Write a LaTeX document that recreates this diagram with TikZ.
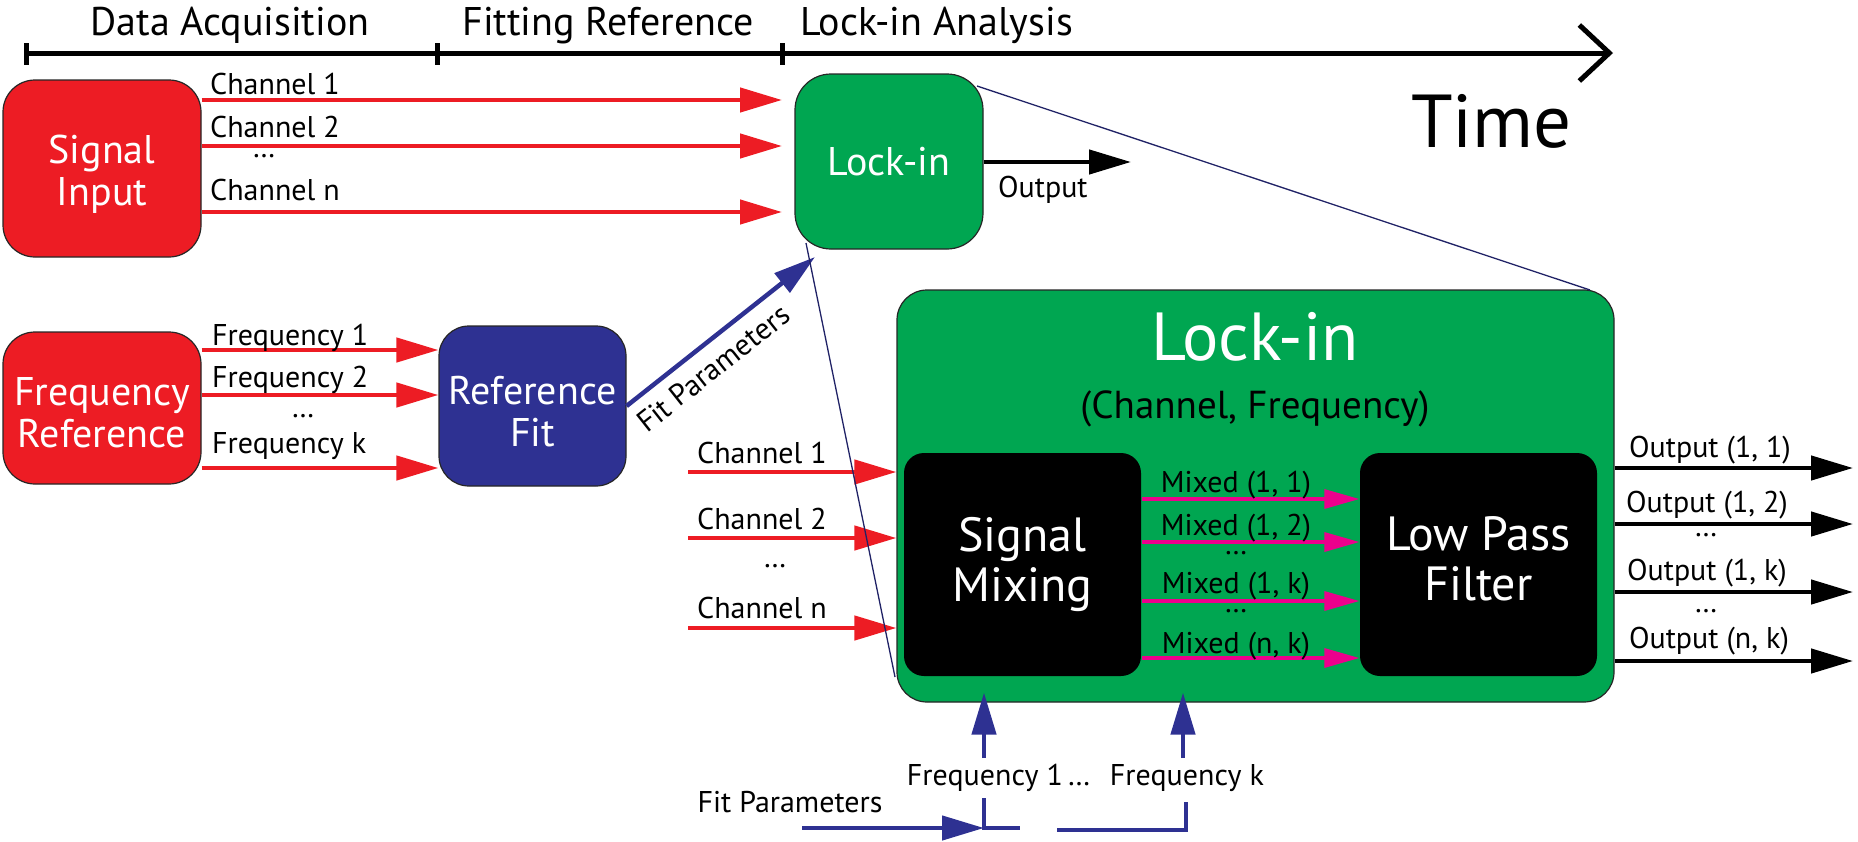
\documentclass[tikz,border=0pt]{standalone}
\usepackage{fontspec}
\setmainfont{PT Sans}
\usetikzlibrary{arrows.meta}
\definecolor{cred}{HTML}{ED1C24}
\definecolor{cgreen}{HTML}{00A651}
\definecolor{cblue}{HTML}{2E3192}
\definecolor{cmag}{HTML}{EC008C}
\begin{document}
\begin{tikzpicture}[x=1pt,y=-1pt,
  box/.style={draw=black!85, line width=1.2pt, inner sep=0pt, text=white, align=center},
  lbl/.style={inner sep=0pt, font=\fontsize{30}{32}\selectfont},
  hdr/.style={inner sep=0pt, font=\fontsize{40}{42}\selectfont},
  redarr/.style={draw=cred, line width=4.5pt, -{Triangle[length=42pt,width=24pt]}},
  blkarr/.style={draw=black, line width=4.5pt, -{Triangle[length=42pt,width=24pt]}},
  bluearr/.style={draw=cblue, line width=4.5pt, -{Triangle[length=42pt,width=24pt]}},
  blueln/.style={draw=cblue, line width=4.5pt},
  magarr/.style={draw=cmag, line width=3.2pt, -{Triangle[length=35pt,width=19pt]}},
  projln/.style={draw=cblue!70!black, line width=1.3pt},
]
\useasboundingbox (0,0) rectangle (1858,841);

% ---- timeline ----
\coordinate (tl0) at (26,53);
\coordinate (tl1) at (437,53);
\coordinate (tl2) at (782,53);
\coordinate (tlE) at (1613,53);
\draw[line width=5pt, -{Straight Barb[length=30pt,width=56pt]}] (tl0) -- (tlE);
\foreach \t in {tl0,tl1,tl2} \draw[line width=5pt] ([yshift=10pt]\t) -- ([yshift=-12pt]\t);
\node[hdr, anchor=base] (hDA) at (230,35) {Data Acquisition};
\node[hdr, anchor=base] (hFR) at (608,35) {Fitting Reference};
\node[hdr, anchor=base west] (hLA) at (800,35) {Lock-in Analysis};
\node[inner sep=0pt, anchor=base west, font=\fontsize{75}{80}\selectfont] (time) at (1411,147) {Time};

% ---- boxes ----
\node[box, fill=cred, rounded corners=32pt, minimum width=198pt, minimum height=177pt, font=\fontsize{40}{42}\selectfont] (SI) at (102,168.5) {\rule{0pt}{39pt}Signal\\Input};
\node[box, fill=cred, rounded corners=32pt, minimum width=198pt, minimum height=152pt, font=\fontsize{40}{42}\selectfont] (FR) at (102,408) {\rule{0pt}{38pt}Frequency\\Reference};
\node[box, fill=cblue, rounded corners=30pt, minimum width=187pt, minimum height=160pt, font=\fontsize{40}{42}\selectfont] (RF) at (532.5,406) {\rule{0pt}{39pt}Reference\\Fit};
\node[box, fill=cgreen, rounded corners=36pt, minimum width=188pt, minimum height=175pt, font=\fontsize{40}{42}\selectfont] (LI) at (889,161.5) {Lock-in};
\node[box, fill=cgreen, rounded corners=30pt, minimum width=717pt, minimum height=412pt] (BIG) at (1255.5,496) {};
\node[inner sep=0pt, anchor=base, text=white, font=\fontsize{68}{70}\selectfont] (BIGt) at (1255,360) {Lock-in};
\node[inner sep=0pt, anchor=base, font=\fontsize{39}{40}\selectfont] (BIGs) at (1255,418) {(Channel, Frequency)};
\node[box, draw=none, fill=black, rounded corners=20pt, minimum width=237pt, minimum height=223pt, font=\fontsize{48}{50}\selectfont] (SM) at (1022.5,564.5) {Signal\\Mixing};
\node[box, draw=none, fill=black, rounded corners=20pt, minimum width=237pt, minimum height=223pt, font=\fontsize{48}{50}\selectfont] (LP) at (1478.5,564.5) {Low Pass\\Filter\rule[-12pt]{0pt}{0pt}};

% ---- signal input -> lock-in ----
\coordinate (c1) at (782,100);
\coordinate (c2) at (782,146);
\coordinate (cn) at (782,212);
\foreach \c in {c1,c2,cn} \draw[redarr] (SI.east |- \c) -- (\c);
\node[lbl, anchor=base west] (lc1) at (210,94) {Channel 1};
\node[lbl, anchor=base west] (lc2) at (210,137) {Channel 2};
\node[lbl] (lcd) at (264,156) {…};
\node[lbl, anchor=base west] (lcn) at (210,200) {Channel n};

\coordinate (oE) at (1131,162);
\draw[blkarr] (LI.east |- oE) -- (oE);
\node[lbl, anchor=base west] (lo) at (998,197) {Output};

% ---- frequency reference -> reference fit ----
\coordinate (f1) at (300,350);
\coordinate (f2) at (300,395);
\coordinate (fk) at (300,468);
\foreach \c in {f1,f2,fk} \draw[redarr] (FR.east |- \c) -- (RF.west |- \c);
\node[lbl, anchor=base west] (lf1) at (212,345) {Frequency 1};
\node[lbl, anchor=base west] (lf2) at (212,387) {Frequency 2};
\node[lbl] (lfd) at (303,416) {…};
\node[lbl, anchor=base west] (lfk) at (212,453) {Frequency k};

% ---- fit parameters -> lock-in ----
\coordinate (fpT) at (815,257);
\draw[bluearr] (RF.east) -- node[lbl, sloped, below=11pt, pos=0.38] (lfp) {Fit Parameters} (fpT);

% ---- projection lines ----
\coordinate (pA) at (977,86);
\coordinate (pB) at (1590,290);
\coordinate (pC) at (806,243);
\coordinate (pD) at (895,677);

% ---- channels -> big lock-in ----
\coordinate (b1) at (688,472);
\coordinate (b2) at (688,538);
\coordinate (bn) at (688,628);
\foreach \c in {b1,b2,bn} \draw[redarr] (\c) -- (BIG.west |- \c);
\node[lbl, anchor=base west] (lb1) at (697,463) {Channel 1};
\node[lbl, anchor=base west] (lb2) at (697,529) {Channel 2};
\node[lbl] (lbd) at (775,566) {…};
\node[lbl, anchor=base west] (lbn) at (697,618) {Channel n};
\draw[projln] (pA) -- (pB);
\draw[projln] (pC) -- (pD);

% ---- mixed ----
\coordinate (m1) at (1250,499);
\coordinate (m2) at (1250,542);
\coordinate (mk) at (1250,601);
\coordinate (mn) at (1250,658);
\foreach \c in {m1,m2,mk,mn} \draw[magarr] (SM.east |- \c) -- (LP.west |- \c);
\node[lbl, anchor=base] (lm1) at (1236,492) {Mixed (1, 1)};
\node[lbl, anchor=base] (lm2) at (1236,535) {Mixed (1, 2)};
\node[lbl] (lmd1) at (1236,553) {…};
\node[lbl, anchor=base] (lmk) at (1236,593) {Mixed (1, k)};
\node[lbl] (lmd2) at (1236,611) {…};
\node[lbl, anchor=base] (lmn) at (1236,653) {Mixed (n, k)};

% ---- outputs ----
\coordinate (o1) at (1853,468);
\coordinate (o2) at (1853,524);
\coordinate (ok) at (1853,592);
\coordinate (on) at (1853,661);
\foreach \c in {o1,o2,ok,on} \draw[blkarr] (BIG.east |- \c) -- (\c);
\node[lbl, anchor=base] (lo1) at (1710,457) {Output (1, 1)};
\node[lbl, anchor=base] (lo2) at (1707,512) {Output (1, 2)};
\node[lbl] (lod1) at (1706,535) {…};
\node[lbl, anchor=base] (lok) at (1707,580) {Output (1, k)};
\node[lbl] (lod2) at (1706,611) {…};
\node[lbl, anchor=base] (lon) at (1709,648) {Output (n, k)};

% ---- bottom frequencies ----
\coordinate (q1) at (984,758);
\coordinate (qk) at (1183,758);
\draw[bluearr, shorten >=-10pt] (q1) -- (BIG.south -| q1);
\draw[bluearr, shorten >=-10pt] (qk) -- (BIG.south -| qk);
\node[lbl, anchor=base] (lq1) at (985,785) {Frequency 1};
\node[lbl, anchor=base] (lqd) at (1079,785) {…};
\node[lbl, anchor=base] (lqk) at (1187,785) {Frequency k};
\node[lbl, anchor=base] (lfpb) at (790,812) {Fit Parameters};
\coordinate (fpS) at (802,828);
\coordinate (j1) at (984,828);
\coordinate (j1t) at (984,798);
\coordinate (j1e) at (1020,828);
\coordinate (j2s) at (1057,830);
\coordinate (j2) at (1186,830);
\coordinate (j2t) at (1186,802);
\draw[bluearr] (fpS) -- (j1);
\draw[blueln] (j1t) -- (j1) -- (j1e);
\draw[blueln] (j2s) -- (j2) -- (j2t);
\end{tikzpicture}
\end{document}
